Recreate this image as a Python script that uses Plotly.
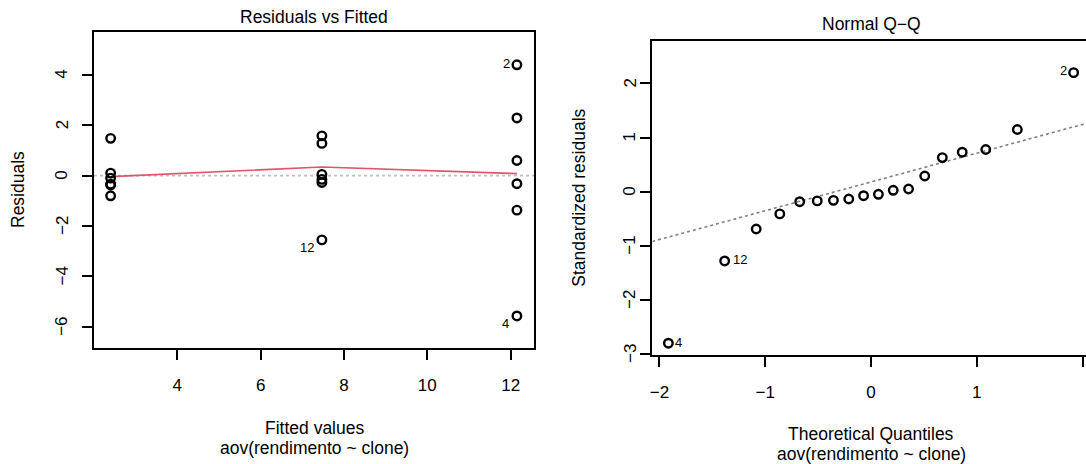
import plotly.graph_objects as go

# ---------------- data ----------------
fitted_levels = [2.40, 7.47, 12.15]
resid_clone_a = [1.48, 0.10, -0.10, -0.34, -0.37, -0.80]
resid_clone_b = [1.58, 1.28, 0.05, -0.15, -0.27, -2.55]
resid_clone_c = [4.40, 2.29, 0.60, -0.32, -1.37, -5.57]

smooth_x = [2.40, 7.47, 12.15]
smooth_y = [-0.04, 0.34, 0.08]

theo_quantiles = [-1.915, -1.383, -1.085, -0.862, -0.674, -0.508, -0.355, -0.210, -0.070,
                  0.070, 0.210, 0.355, 0.508, 0.674, 0.862, 1.085, 1.383, 1.915]
std_residuals = [-2.80, -1.28, -0.69, -0.41, -0.185, -0.17, -0.16, -0.135, -0.074,
                 -0.048, 0.026, 0.05, 0.29, 0.63, 0.73, 0.78, 1.15, 2.20]
qq_intercept = 0.18
qq_slope = 0.532

rvf_labels = [("2", 12.15, 4.40), ("12", 7.47, -2.55), ("4", 12.15, -5.57)]
qq_labels = [("4", -1.915, -2.80), ("12", -1.383, -1.28), ("2", 1.915, 2.20)]

x_ticks_left = [4, 6, 8, 10, 12]
y_ticks_left = [-6, -4, -2, 0, 2, 4]
x_ticks_right = [-2, -1, 0, 1, 2]
y_ticks_right = [-3, -2, -1, 0, 1, 2]

# ---------------- layout constants ----------------
W, H = 1086, 464
FONT = "Liberation Sans, Arial, sans-serif"
FS = 17.5
FS_TICK = 17

def px_x(p):
    return p / W

def px_y(p):
    return 1 - p / H

def num_label(v):
    return str(v).replace("-", "\u2212")

left_range_x = [2.001, 12.56]
left_range_y = [-6.853, 5.713]
right_range_x = [-2.067, 2.032]
right_range_y = [-3.013, 2.791]

fig = go.Figure()

fit_x = []
res_y = []
for lvl, grp in zip(fitted_levels, [resid_clone_a, resid_clone_b, resid_clone_c]):
    fit_x += [lvl] * len(grp)
    res_y += grp

marker_style = dict(symbol="circle-open", size=8.5, color="black",
                    line=dict(width=2.4, color="black"))

fig.add_trace(go.Scatter(x=left_range_x, y=[0, 0], mode="lines",
                         line=dict(color="#BEBEBE", width=1.6, dash="dot"),
                         xaxis="x", yaxis="y", hoverinfo="skip", showlegend=False))
fig.add_trace(go.Scatter(x=smooth_x, y=smooth_y, mode="lines",
                         line=dict(color="#DF536B", width=1.6),
                         xaxis="x", yaxis="y", showlegend=False))
fig.add_trace(go.Scatter(x=fit_x, y=res_y, mode="markers", marker=marker_style,
                         xaxis="x", yaxis="y", showlegend=False, cliponaxis=False))

fig.add_trace(go.Scatter(x=right_range_x,
                         y=[qq_intercept + qq_slope * v for v in right_range_x],
                         mode="lines", line=dict(color="#7F7F7F", width=1.6, dash="dot"),
                         xaxis="x2", yaxis="y2", hoverinfo="skip", showlegend=False))
fig.add_trace(go.Scatter(x=theo_quantiles, y=std_residuals, mode="markers", marker=marker_style,
                         xaxis="x2", yaxis="y2", showlegend=False, cliponaxis=False))

axis_common = dict(showgrid=False, zeroline=False, showline=True, linecolor="black",
                   linewidth=1.8, ticks="outside", ticklen=10, tickwidth=1.5,
                   tickcolor="black", tickfont=dict(family=FONT, size=FS_TICK, color="black"))

fig.update_layout(
    width=W, height=H, margin=dict(l=0, r=0, t=0, b=0, autoexpand=False),
    paper_bgcolor="white", plot_bgcolor="white",
    font=dict(family=FONT, size=FS, color="black"),
    xaxis=dict(domain=[px_x(94), px_x(534)], range=left_range_x, tickvals=x_ticks_left,
               mirror=True, anchor="y", ticklabelstandoff=10, **axis_common),
    yaxis=dict(domain=[px_y(348.3), px_y(31.7)], range=left_range_y, tickvals=y_ticks_left,
               mirror=True, anchor="x", showticklabels=False, **axis_common),
    xaxis2=dict(domain=[px_x(652.3), 1.0], range=right_range_x, tickvals=x_ticks_right,
                mirror=True, anchor="y2", ticklabelstandoff=11, **axis_common),
    yaxis2=dict(domain=[px_y(354.7), px_y(40.7)], range=right_range_y, tickvals=y_ticks_right,
                anchor="x2", showticklabels=False, **axis_common),
    showlegend=False,
)

annotations = []

def paper_text(text, x, y, angle=0, size=FS, yanchor="middle"):
    annotations.append(dict(text=text, x=px_x(x), y=px_y(y), xref="paper", yref="paper",
                            showarrow=False, textangle=angle, xanchor="center",
                            yanchor=yanchor, font=dict(family=FONT, size=size, color="black")))

paper_text("Residuals vs Fitted", 314, 16.7)
paper_text("Normal Q\u2212Q", 871, 24)
paper_text("Fitted values", 314, 427.7)
paper_text("aov(rendimento ~ clone)", 314, 447.7)
paper_text("Theoretical Quantiles", 871, 434)
paper_text("aov(rendimento ~ clone)", 871, 454)
paper_text("Residuals", 18, 190, angle=-90)
paper_text("Standardized residuals", 579, 197.7, angle=-90)

# rotated y tick labels (R style, parallel to the axis)
for v in y_ticks_left:
    annotations.append(dict(text=num_label(v), x=px_x(62), y=v, xref="paper", yref="y",
                            showarrow=False, textangle=-90, xanchor="center", yanchor="middle",
                            font=dict(family=FONT, size=FS_TICK, color="black")))
for v in y_ticks_right:
    annotations.append(dict(text=num_label(v), x=px_x(630), y=v, xref="paper", yref="y2",
                            showarrow=False, textangle=-90, xanchor="center", yanchor="middle",
                            font=dict(family=FONT, size=FS_TICK, color="black")))

lbl_font = dict(family=FONT, size=13, color="black")
shifts_rvf = {"2": (-5, 1.4), "12": (-6, -8), "4": (-6, -8)}
for name, xv, yv in rvf_labels:
    dx, dy = shifts_rvf[name]
    annotations.append(dict(text=name, x=xv, y=yv, xref="x", yref="y", showarrow=False,
                            xanchor="right", yanchor="middle", xshift=dx, yshift=dy,
                            font=lbl_font))
shifts_qq = {"4": (5, 1, "left"), "12": (6.5, 1, "left"), "2": (-5, 1.7, "right")}
for name, xv, yv in qq_labels:
    dx, dy, anc = shifts_qq[name]
    annotations.append(dict(text=name, x=xv, y=yv, xref="x2", yref="y2", showarrow=False,
                            xanchor=anc, yanchor="middle", xshift=dx, yshift=dy,
                            font=lbl_font))

fig.update_layout(annotations=annotations)

fig.write_html(
    "out.html",
    config={"displayModeBar": False},
    post_script="document.body.style.margin='0';document.documentElement.style.overflow='hidden';",
)
